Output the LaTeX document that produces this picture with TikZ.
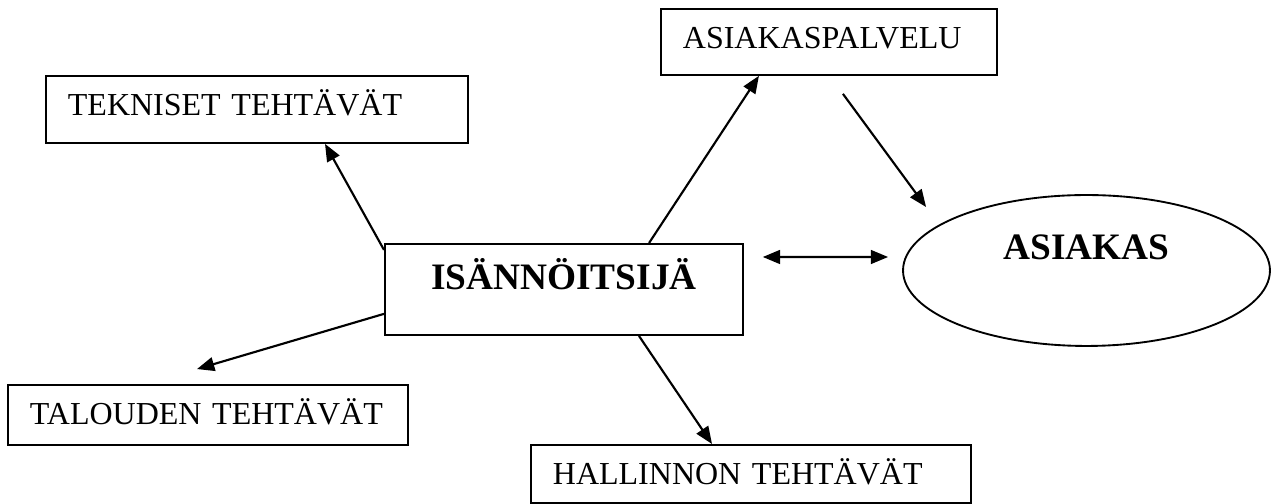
\documentclass[tikz,border=0pt]{standalone}
\usepackage{fontspec}
\setmainfont{Liberation Serif}
\usetikzlibrary{positioning, calc, arrows.meta, shapes.geometric}
\definecolor{Ink}{HTML}{000000}
\tikzset{
    taskbox/.style={rectangle, draw=Ink, line width=0.7pt, anchor=north west, inner xsep=8.25pt, inner ysep=0pt, align=left, font=\fontsize{12}{14}\selectfont},
    mainbox/.style={taskbox, align=center, font=\fontsize{14}{16}\selectfont\bfseries},
    clientnode/.style={ellipse, draw=Ink, line width=0.7pt, inner sep=0pt, minimum width=137.6pt, minimum height=56.6pt, font=\fontsize{14}{16}\selectfont\bfseries},
    arrow/.style={-{Triangle[length=6.5pt,width=5.2pt]}, line width=0.8pt, color=Ink},
    twoarrow/.style={arrow, {Triangle[length=6.5pt,width=5.2pt]}-{Triangle[length=6.5pt,width=5.2pt]}},
}

\begin{document}
\begin{tikzpicture}[x=0.375pt, y=-0.375pt]
    \useasboundingbox (0,0) rectangle (1274,504);
    % Riquadri
    \node[taskbox, text width=141.75pt, text height=15pt, text depth=10.125pt] (tekn) at (45,75) {TEKNISET TEHTÄVÄT};
    \node[taskbox, text width=109.5pt, text height=15pt, text depth=9.75pt] (palv) at (660,8) {ASIAKASPALVELU};
    \node[mainbox, text width=117.75pt, text height=17.25pt, text depth=16.875pt] (isan) at (384,243) {ISÄNNÖITSIJÄ};
    \node[taskbox, text width=133.5pt, text height=15pt, text depth=7.5pt] (talo) at (7,384) {TALOUDEN TEHTÄVÄT};
    \node[taskbox, text width=148.5pt, text height=15pt, text depth=6.75pt] (hall) at (530,444) {HALLINNON TEHTÄVÄT};
    \node[clientnode, text height=9.375pt, text depth=17.25pt] (asiakas) at (1086.5,270.5) {ASIAKAS};

    % Estremi liberi
    \coordinate (pa) at ([xshift=68.6pt, yshift=-6.75pt]palv.south west);
    \coordinate (pb) at ([xshift=9pt, yshift=23.8pt]asiakas.west);
    \coordinate (da) at ([xshift=7.1pt, yshift=-5.25pt]isan.north east);
    \coordinate (db) at ([xshift=-5.25pt, yshift=5.06pt]asiakas.west);
    \coordinate (tl) at ([xshift=71.25pt, yshift=5.6pt]talo.north west);

    % Frecce
    \draw[arrow] ([yshift=-2.6pt]isan.north west) -- ([xshift=105pt]tekn.south west);
    \draw[arrow] ([xshift=99.4pt]isan.north west) -- ([xshift=37.1pt]palv.south west);
    \draw[arrow] (pa) -- (pb);
    \draw[twoarrow] (da) -- (db);
    \draw[arrow] ([yshift=8.25pt]isan.south west) -- (tl);
    \draw[arrow] ([xshift=95.6pt]isan.south west) -- ([xshift=68.25pt]hall.north west);
\end{tikzpicture}
\end{document}
